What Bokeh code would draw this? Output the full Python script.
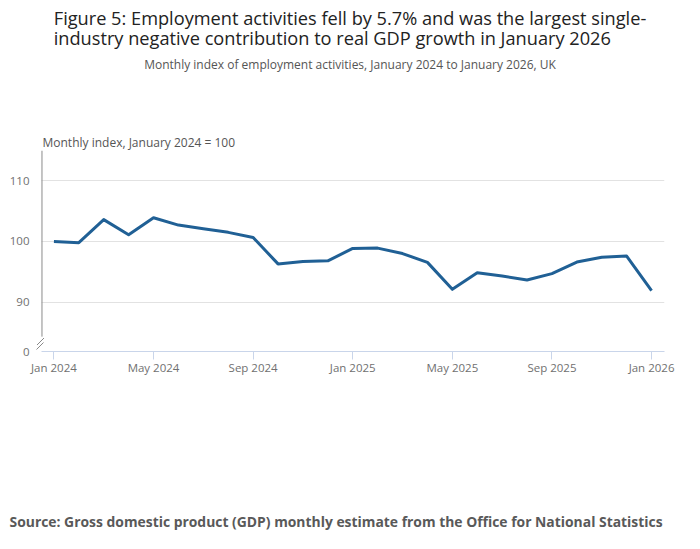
from bokeh.plotting import figure
from bokeh.models import (Title, FixedTicker, Arrow, Range1d)
from bokeh.embed import file_html
from bokeh.resources import INLINE

# ---- data ----
months = list(range(25))
month_labels = {0: "Jan 2024", 4: "May 2024", 8: "Sep 2024", 12: "Jan 2025",
                16: "May 2025", 20: "Sep 2025", 24: "Jan 2026"}
index_values = [100.0, 99.8, 103.6, 101.1, 103.9, 102.7, 102.1, 101.5, 100.65,
                96.3, 96.7, 96.8, 98.85, 98.9, 98.0, 96.55, 92.1, 94.85, 94.3,
                93.65, 94.7, 96.6, 97.4, 97.6, 91.9]
y_ticks = [90, 100, 110]
title_lines = ["Figure 5: Employment activities fell by 5.7% and was the largest single-",
               "industry negative contribution to real GDP growth in January 2026"]
subtitle = "Monthly index of employment activities, January 2024 to January 2026, UK"
y_label = "Monthly index, January 2024 = 100"
source = "Source: Gross domestic product (GDP) monthly estimate from the Office for National Statistics"

FONT = "Open Sans"
Y_BREAK = 81.85   # axis position representing 0 after the break
Y_TOP = 115.0
X_AXIS_POS = -0.48

p = figure(width=684, height=533, output_backend="svg", toolbar_location=None,
           title=None,
           x_range=Range1d(-0.74, 24.52), y_range=Range1d(Y_BREAK, Y_TOP),
           min_border_left=35, min_border_right=20, min_border_top=0,
           min_border_bottom=0)
p.outline_line_color = None
p.background_fill_color = "white"

p.line(months, index_values, line_color="#206095", line_width=3, line_join="round")

# x axis
xa = p.xaxis[0]
xa.ticker = FixedTicker(ticks=sorted(month_labels.keys()))
xa.major_label_overrides = month_labels
xa.bounds = (X_AXIS_POS, 24.52)
xa.axis_line_color = "#c9d5ea"
xa.major_tick_line_color = "#c9d5ea"
xa.major_tick_out = 8
xa.major_tick_in = 0
xa.minor_tick_line_color = None
xa.major_label_text_font = FONT
xa.major_label_text_font_size = "11.5px"
xa.major_label_text_color = "#707070"
xa.major_label_standoff = 0

# y axis
ya = p.yaxis[0]
ya.ticker = FixedTicker(ticks=[Y_BREAK] + y_ticks)
ya.major_label_overrides = {Y_BREAK: "0"}
ya.axis_line_color = None
ya.major_tick_line_color = None
ya.minor_tick_line_color = None
ya.major_label_text_font = FONT
ya.major_label_text_font_size = "11.5px"
ya.major_label_text_color = "#707070"
ya.major_label_standoff = 0

p.xgrid.grid_line_color = None
yg = p.ygrid[0]
yg.ticker = FixedTicker(ticks=y_ticks)
yg.grid_line_color = "#e2e2e2"
yg.grid_line_width = 1
if "cross_bounds" in yg.properties():
    yg.cross_bounds = (X_AXIS_POS, 24.52)

def ttl(text, place, size, color, align="center", offset=0, standoff=0,
        style="normal", line_height=1.0):
    p.add_layout(Title(text=text, align=align, offset=offset, standoff=standoff,
                       text_font=FONT, text_font_size=size, text_color=color,
                       text_font_style=style, text_line_height=line_height), place)

# above: from the frame outward
ttl(y_label, "above", "12px", "#555555", align="left", offset=7, standoff=0)
ttl(" ", "above", "12px", "#555555", standoff=39.5)          # spacing
ttl(subtitle, "above", "12px", "#555555", standoff=0)
ttl("\n".join(title_lines), "above", "18.2px", "#222222", standoff=6,
    line_height=0.87)

# below: after the x axis
ttl(" ", "below", "12px", "#555555", standoff=111)           # spacing
ttl(source, "below", "13.9px", "#595959", align="left", offset=-26, standoff=5,
    style="bold")

# y axis line with break marks
p.add_layout(Arrow(end=None, x_start=X_AXIS_POS, y_start=Y_TOP, x_end=X_AXIS_POS,
                   y_end=84.3, start_units="data", end_units="data",
                   line_color="#8a8a8a", line_width=1))

def seg(x0, y0, x1, y1):
    p.add_layout(Arrow(end=None, x_start=x0, y_start=y0, x_end=x1, y_end=y1,
                       start_units="screen", end_units="screen",
                       line_color="#8a8a8a", line_width=1))

seg(1.0, 2.0, 8.0, 9.0)
seg(1.5, 6.5, 8.5, 13.5)

open("out.html", "w").write(file_html(p, INLINE))
